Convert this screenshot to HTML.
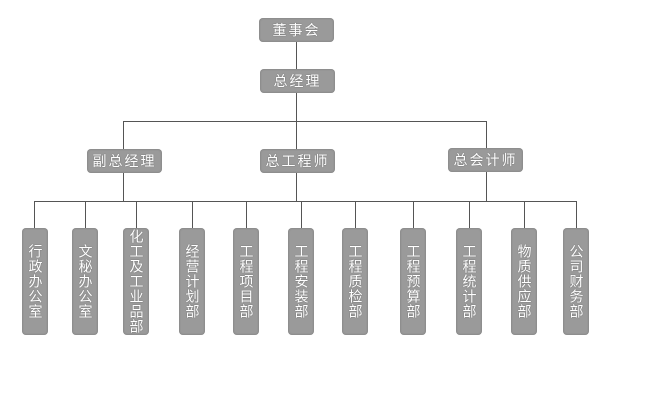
<!DOCTYPE html>
<html><head><meta charset="utf-8"><style>
body{margin:0;background:#fff;width:650px;height:417px;position:relative;overflow:hidden;font-family:"Liberation Sans","Noto Sans CJK SC",sans-serif}
.l{position:absolute;background:#555}
.h{height:1px}.v{width:1px}
.b{position:absolute;background:#9a9a9a;border-radius:4px;color:#fff;text-shadow:0 0 1px #555;display:flex;align-items:center;justify-content:center;box-shadow:inset 0 0 2px #777}
.t{width:75px;height:24px;font-size:14px;letter-spacing:2px}
.d{width:26px;height:107px;top:228px;font-size:14px;line-height:15px;writing-mode:vertical-rl;letter-spacing:1px}
</style></head><body>
<div class="l v" style="left:296px;top:42px;height:27px"></div>
<div class="l v" style="left:296px;top:93px;height:108px"></div>
<div class="l h" style="left:123px;top:121px;width:364px"></div>
<div class="l v" style="left:123px;top:121px;height:80px"></div>
<div class="l v" style="left:486px;top:121px;height:80px"></div>
<div class="l h" style="left:34px;top:201px;width:542px"></div>
<div class="l v" style="left:34px;top:201px;height:27px"></div>
<div class="l v" style="left:85px;top:201px;height:27px"></div>
<div class="l v" style="left:136px;top:201px;height:27px"></div>
<div class="l v" style="left:192px;top:201px;height:27px"></div>
<div class="l v" style="left:246px;top:201px;height:27px"></div>
<div class="l v" style="left:301px;top:201px;height:27px"></div>
<div class="l v" style="left:355px;top:201px;height:27px"></div>
<div class="l v" style="left:413px;top:201px;height:27px"></div>
<div class="l v" style="left:469px;top:201px;height:27px"></div>
<div class="l v" style="left:524px;top:201px;height:27px"></div>
<div class="l v" style="left:576px;top:201px;height:27px"></div>

<div class="b t" style="left:259px;top:18px">董事会</div>
<div class="b t" style="left:260px;top:69px">总经理</div>
<div class="b t" style="left:87px;top:149px">副总经理</div>
<div class="b t" style="left:260px;top:149px">总工程师</div>
<div class="b t" style="left:448px;top:148px">总会计师</div>

<div class="b d" style="left:22px">行政办公室</div>
<div class="b d" style="left:72px">文秘办公室</div>
<div class="b d" style="left:123px">化工及工业品部</div>
<div class="b d" style="left:179px">经营计划部</div>
<div class="b d" style="left:233px">工程项目部</div>
<div class="b d" style="left:288px">工程安装部</div>
<div class="b d" style="left:342px">工程质检部</div>
<div class="b d" style="left:400px">工程预算部</div>
<div class="b d" style="left:456px">工程统计部</div>
<div class="b d" style="left:511px">物质供应部</div>
<div class="b d" style="left:563px">公司财务部</div>
</body></html>
